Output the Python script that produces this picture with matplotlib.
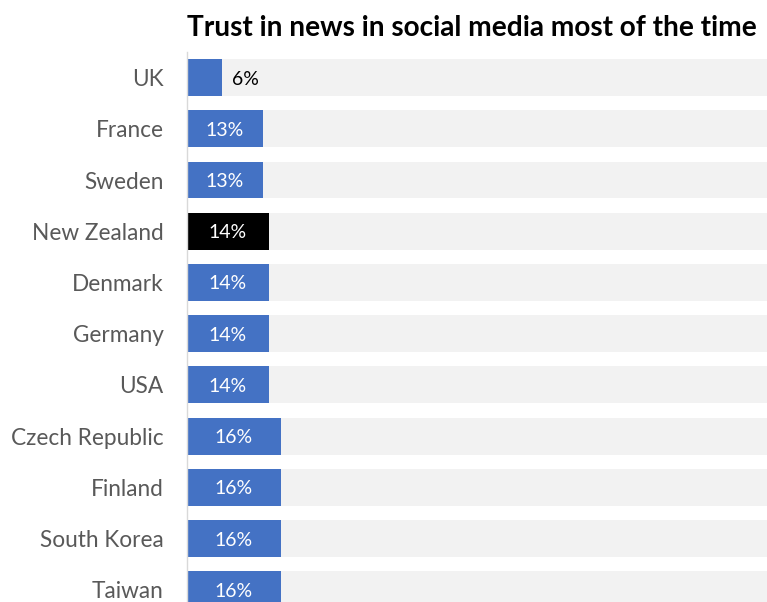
import matplotlib.pyplot as plt
import numpy as np

countries = ['UK', 'France', 'Sweden', 'New Zealand', 'Denmark', 'Germany',
             'USA', 'Czech Republic', 'Finland', 'South Korea', 'Taiwan']
trust = [6, 13, 13, 14, 14, 14, 14, 16, 16, 16, 16]
highlight = 'New Zealand'

plt.rcParams['font.family'] = ['Lato', 'DejaVu Sans']

fig = plt.figure(figsize=(7.67, 6.02), dpi=100)
ax = fig.add_axes([187 / 767, 0, 580 / 767, 550 / 602])

y = np.arange(len(countries))
colors = ['black' if c == highlight else '#4472C4' for c in countries]

# grey track behind each bar
ax.barh(y, [100] * len(y), height=0.72, color='#F2F2F2', zorder=1)
ax.barh(y, trust, height=0.72, color=colors, zorder=2)

for i, v in enumerate(trust):
    if v < 10:
        ax.text(v + 1.6, i + 0.03, f'{v}%', va='center', ha='left', fontsize=14, color='black')
    else:
        ax.text(v / 2, i + 0.03, f'{v}%', va='center', ha='center', fontsize=14, color='white')

ax.set_xlim(0, 99)
ax.set_ylim(10.24, -0.5)
ax.set_yticks(y)
ax.set_yticklabels(countries, fontsize=16.3, color='#595959')
ax.tick_params(axis='y', length=0, pad=17)
ax.set_xticks([])
for side in ['top', 'right', 'bottom']:
    ax.spines[side].set_visible(False)
ax.spines['left'].set_color('#D9D9D9')
ax.spines['left'].set_linewidth(1)

fig.text(187 / 767, 1 - 28 / 602, 'Trust in news in social media most of the time',
         fontsize=20.2, fontweight='bold', ha='left', va='center')

fig.savefig('out.png', dpi=100)
